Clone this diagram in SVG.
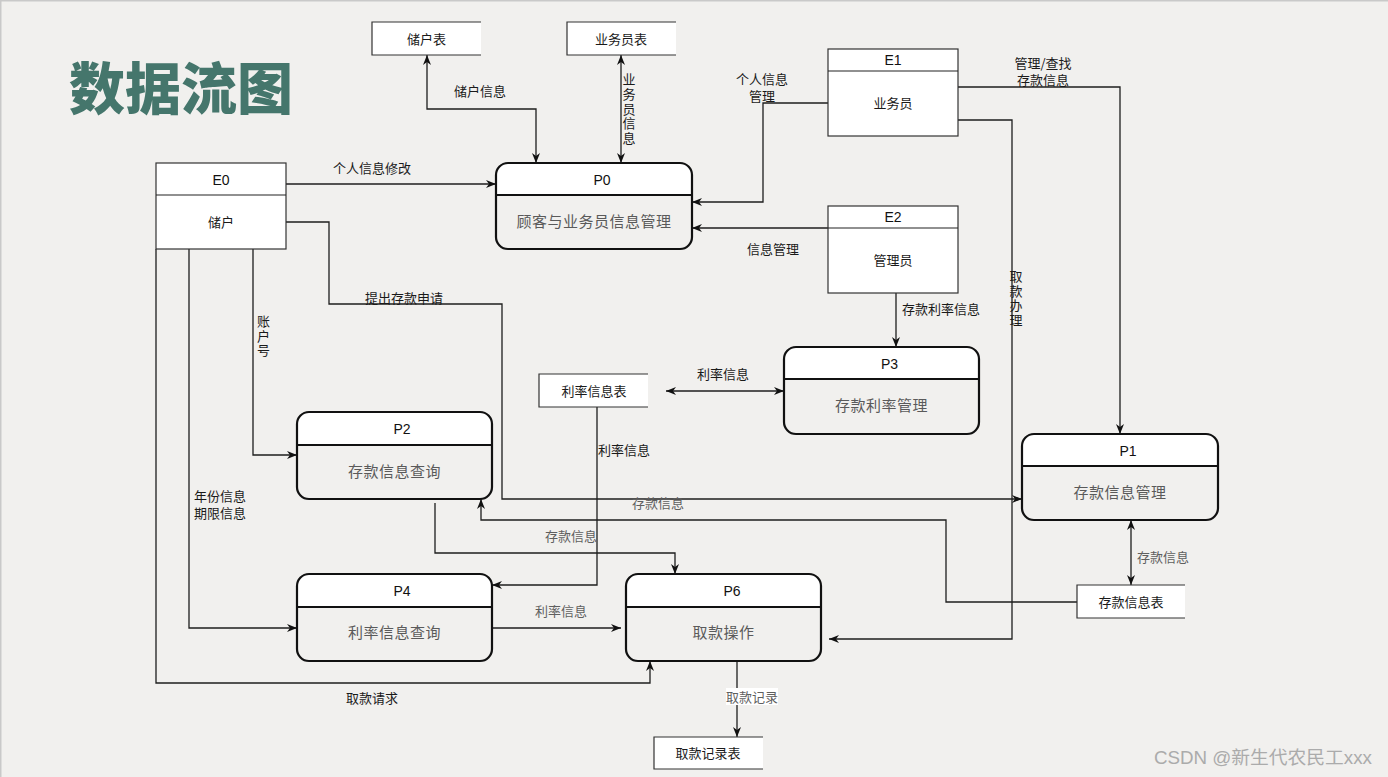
<svg xmlns="http://www.w3.org/2000/svg" width="1388" height="777" viewBox="0 0 1388 777">
  <style>
    .bg { fill: #f1f0ee; }
    .frame { stroke: #c9c9c9; stroke-width: 1.5; fill: none; }
    .title { font-family: "Noto Sans CJK SC", "Noto Sans", sans-serif; font-weight: 900; font-size: 56px; fill: #45766c; }
    .ent { fill: #ffffff; stroke: #333333; stroke-width: 1.2; }
    .div { stroke: #222222; stroke-width: 1.2; }
    .phead { fill: #ffffff; stroke: none; }
    .pbox { fill: none; stroke: #111111; stroke-width: 2.2; }
    .pdiv { stroke: #111111; stroke-width: 2; }
    .store { fill: #ffffff; stroke: none; }
    .sedge { fill: none; stroke: #333333; stroke-width: 1.2; }
    .lbl { font-family: "Liberation Sans", "Noto Sans CJK SC", sans-serif; font-size: 14px; fill: #111111; text-anchor: middle; dominant-baseline: central; }
    .cn { font-family: "Noto Sans CJK SC", sans-serif; font-size: 13px; fill: #1a1a1a; text-anchor: middle; dominant-baseline: central; }
    .vt { font-family: "Noto Sans CJK SC", sans-serif; font-size: 13px; fill: #1a1a1a; writing-mode: vertical-rl; text-orientation: upright; letter-spacing: 1.6px; }
    .body { font-family: "Noto Sans CJK SC", sans-serif; font-size: 15px; fill: #5a5a5a; text-anchor: middle; dominant-baseline: central; letter-spacing: 0.5px; }
    .gray { font-family: "Noto Sans CJK SC", sans-serif; font-size: 13px; fill: #5f5f5f; text-anchor: middle; dominant-baseline: central; }
    .wm { font-family: "Liberation Sans", "Noto Sans CJK SC", sans-serif; font-size: 18px; fill: #ababab; dominant-baseline: central; }
    .flow path { fill: none; stroke: #1e1e1e; stroke-width: 1.3; }
    .end { marker-end: url(#ah); }
    .both { marker-start: url(#ah); marker-end: url(#ah); }
  </style>
  <defs>
    <marker id="ah" viewBox="0 0 10 8" refX="10" refY="4" markerWidth="10" markerHeight="8" markerUnits="userSpaceOnUse" orient="auto-start-reverse">
      <path d="M0,0 L10,4 L0,8 L3,4 z" fill="#111111"/>
    </marker>
  </defs>

  <rect class="bg" x="0" y="0" width="1388" height="777"/>
  <path class="frame" d="M0.75,777 V0.75 H1388"/>

  <text class="title" x="181" y="84" text-anchor="middle" dominant-baseline="central">数据流图</text>

  <!-- data flows -->
  <g id="connectors" class="flow">
    <path class="both" d="M427,55 V109 H536 V163"/>
    <path class="both" d="M621,55 V163"/>
    <path class="end" d="M828,103 H763 V202 H692"/>
    <path class="end" d="M828,228 H692"/>
    <path class="end" d="M286,184 H496"/>
    <path class="end" d="M958,87 H1120 V434"/>
    <path class="end" d="M958,120 H1012 V639 H829"/>
    <path class="end" d="M896,293 V347"/>
    <path class="both" d="M666,391 H784"/>
    <path class="end" d="M597,407 V585 H492"/>
    <path class="end" d="M253,249 V455 H297"/>
    <path class="end" d="M189,249 V628 H297"/>
    <path class="end" d="M156,249 V683 H650 V661"/>
    <path class="end" d="M286,222 H329 V304 H502 V499 H1022"/>
    <path class="end" d="M1077,602 H946 V520 H481 V499"/>
    <path class="end" d="M435,503 V553 H675 V574"/>
    <path class="end" d="M492,628 H621"/>
    <path class="end" d="M737,661 V737"/>
    <path class="both" d="M1131,520 V585"/>
  </g>

  <!-- flow labels -->
  <g id="flow-labels" transform="translate(0,-1)">
    <text class="cn" x="480" y="91">储户信息</text>
    <text class="vt" x="629" y="74">业务员信息</text>
    <text class="cn" x="762" y="79"><tspan x="762" y="79">个人信息</tspan><tspan x="762" y="96">管理</tspan></text>
    <text class="cn" x="773" y="249">信息管理</text>
    <text class="cn" x="372" y="168">个人信息修改</text>
    <text class="cn" x="1043" y="62.5"><tspan x="1043" y="62.5">管理/查找</tspan><tspan x="1043" y="79.5">存款信息</tspan></text>
    <text class="vt" x="1016" y="270.5">取款办理</text>
    <text class="cn" x="941" y="309">存款利率信息</text>
    <text class="cn" x="723" y="374">利率信息</text>
    <text class="cn" x="624" y="450">利率信息</text>
    <text class="vt" x="263.5" y="315.5">账户号</text>
    <text class="cn" x="220" y="495.5"><tspan x="220" y="495.5">年份信息</tspan><tspan x="220" y="512.5">期限信息</tspan></text>
    <text class="cn" x="372" y="698">取款请求</text>
    <text class="cn" x="404" y="298">提出存款申请</text>
    <text class="gray" x="658" y="503">存款信息</text>
    <text class="gray" x="571" y="536">存款信息</text>
    <text class="gray" x="561" y="611">利率信息</text>
    <rect x="726" y="689" width="52" height="17" fill="#ffffff"/>
    <text class="gray" x="752" y="697">取款记录</text>
    <text class="gray" x="1163" y="557">存款信息</text>
  </g>

  <!-- external entities -->
  <g id="E0">
    <rect class="ent" x="156" y="163" width="130" height="86"/>
    <line class="div" x1="156" y1="195" x2="286" y2="195"/>
    <text class="lbl" x="221" y="180">E0</text>
    <text class="cn" x="221" y="221">储户</text>
  </g>
  <g id="E1">
    <rect class="ent" x="828" y="49" width="130" height="87"/>
    <line class="div" x1="828" y1="71" x2="958" y2="71"/>
    <text class="lbl" x="893" y="60">E1</text>
    <text class="cn" x="893" y="102">业务员</text>
  </g>
  <g id="E2">
    <rect class="ent" x="828" y="206" width="130" height="87"/>
    <line class="div" x1="828" y1="228" x2="958" y2="228"/>
    <text class="lbl" x="893" y="217">E2</text>
    <text class="cn" x="893" y="259">管理员</text>
  </g>

  <!-- processes -->
  <g id="P0">
    <path class="phead" d="M496,195 V175 A12,12 0 0 1 508,163 H680 A12,12 0 0 1 692,175 V195 Z"/>
    <rect class="pbox" x="496" y="163" width="196" height="86" rx="12"/>
    <line class="pdiv" x1="496" y1="195" x2="692" y2="195"/>
    <text class="lbl" x="602" y="180">P0</text>
    <text class="body" x="594" y="220.5">顾客与业务员信息管理</text>
  </g>
  <g id="P1">
    <path class="phead" d="M1022,466 V446 A12,12 0 0 1 1034,434 H1206 A12,12 0 0 1 1218,446 V466 Z"/>
    <rect class="pbox" x="1022" y="434" width="196" height="86" rx="12"/>
    <line class="pdiv" x1="1022" y1="466" x2="1218" y2="466"/>
    <text class="lbl" x="1128" y="451">P1</text>
    <text class="body" x="1120" y="491.5">存款信息管理</text>
  </g>
  <g id="P2">
    <path class="phead" d="M297,445 V424 A12,12 0 0 1 309,412 H480 A12,12 0 0 1 492,424 V445 Z"/>
    <rect class="pbox" x="297" y="412" width="195" height="87" rx="12"/>
    <line class="pdiv" x1="297" y1="445" x2="492" y2="445"/>
    <text class="lbl" x="402" y="429">P2</text>
    <text class="body" x="394.5" y="470.5">存款信息查询</text>
  </g>
  <g id="P3">
    <path class="phead" d="M784,379 V359 A12,12 0 0 1 796,347 H967 A12,12 0 0 1 979,359 V379 Z"/>
    <rect class="pbox" x="784" y="347" width="195" height="87" rx="12"/>
    <line class="pdiv" x1="784" y1="379" x2="979" y2="379"/>
    <text class="lbl" x="889.5" y="364">P3</text>
    <text class="body" x="881.5" y="404.5">存款利率管理</text>
  </g>
  <g id="P4">
    <path class="phead" d="M297,607 V586 A12,12 0 0 1 309,574 H480 A12,12 0 0 1 492,586 V607 Z"/>
    <rect class="pbox" x="297" y="574" width="195" height="87" rx="12"/>
    <line class="pdiv" x1="297" y1="607" x2="492" y2="607"/>
    <text class="lbl" x="402" y="591">P4</text>
    <text class="body" x="394.5" y="631.5">利率信息查询</text>
  </g>
  <g id="P6">
    <path class="phead" d="M626,607 V586 A12,12 0 0 1 638,574 H809 A12,12 0 0 1 821,586 V607 Z"/>
    <rect class="pbox" x="626" y="574" width="195" height="87" rx="12"/>
    <line class="pdiv" x1="626" y1="607" x2="821" y2="607"/>
    <text class="lbl" x="732" y="591">P6</text>
    <text class="body" x="723.5" y="631.5">取款操作</text>
  </g>

  <!-- data stores (open on the right) -->
  <g id="S-depositor">
    <rect class="store" x="372" y="22" width="109" height="33"/>
    <path class="sedge" d="M481,22 H372 V55 H481"/>
    <text class="cn" x="426.5" y="38">储户表</text>
  </g>
  <g id="S-clerk">
    <rect class="store" x="567" y="22" width="109" height="33"/>
    <path class="sedge" d="M676,22 H567 V55 H676"/>
    <text class="cn" x="621" y="38">业务员表</text>
  </g>
  <g id="S-rate">
    <rect class="store" x="539" y="374" width="109" height="33"/>
    <path class="sedge" d="M648,374 H539 V407 H648"/>
    <text class="cn" x="594" y="390">利率信息表</text>
  </g>
  <g id="S-deposit">
    <rect class="store" x="1077" y="585" width="108" height="33"/>
    <path class="sedge" d="M1185,585 H1077 V618 H1185"/>
    <text class="cn" x="1131" y="601">存款信息表</text>
  </g>
  <g id="S-withdraw">
    <rect class="store" x="654" y="737" width="109" height="32"/>
    <path class="sedge" d="M763,737 H654 V769 H763"/>
    <text class="cn" x="708" y="752.5">取款记录表</text>
  </g>

  <text class="wm" x="1154" y="758" textLength="218" lengthAdjust="spacingAndGlyphs">CSDN @新生代农民工xxx</text>
</svg>
